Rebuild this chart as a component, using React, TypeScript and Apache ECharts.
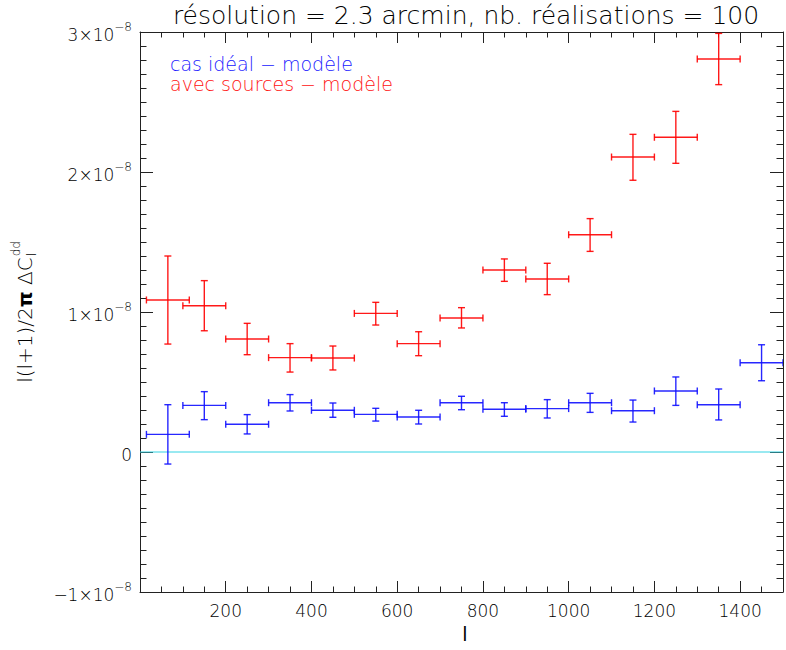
import React, { useEffect, useRef } from 'react';
import * as echarts from 'echarts';

// multipole bins (centre, lower edge, upper edge)
const binCentres = [65, 150, 250, 350, 450, 550, 650, 750, 850, 950, 1050, 1150, 1250, 1350, 1450];
const binLow = [15, 100, 200, 300, 400, 500, 600, 700, 800, 900, 1000, 1100, 1200, 1300, 1400];
const binHigh = [115, 200, 300, 400, 500, 600, 700, 800, 900, 1000, 1100, 1200, 1300, 1400, 1500];

// values in units of 1e-8
const idealValues = [0.126, 0.333, 0.198, 0.352, 0.298, 0.269, 0.250, 0.352, 0.305, 0.310, 0.352, 0.295, 0.436, 0.338, 0.638];
const idealLow = [-0.086, 0.231, 0.129, 0.293, 0.248, 0.221, 0.200, 0.302, 0.255, 0.243, 0.283, 0.214, 0.333, 0.229, 0.509];
const idealHigh = [0.338, 0.431, 0.267, 0.410, 0.350, 0.312, 0.298, 0.398, 0.352, 0.374, 0.419, 0.371, 0.536, 0.450, 0.766];

const sourcesValues = [1.086, 1.045, 0.807, 0.674, 0.671, 0.990, 0.774, 0.957, 1.300, 1.236, 1.552, 2.107, 2.248, 2.807];
const sourcesLow = [0.771, 0.866, 0.695, 0.571, 0.586, 0.907, 0.688, 0.886, 1.219, 1.124, 1.433, 1.941, 2.062, 2.624];
const sourcesHigh = [1.400, 1.224, 0.919, 0.774, 0.757, 1.069, 0.859, 1.031, 1.379, 1.348, 1.667, 2.269, 2.433, 2.990];

const xTicks = [200, 400, 600, 800, 1000, 1200, 1400];
const yTickValues = [-1, 0, 1, 2, 3];

const titleText = 'résolution = 2.3 arcmin, nb. réalisations = 100';
const legendIdeal = 'cas idéal − modèle';
const legendSources = 'avec sources − modèle';

const FONT = '"DejaVu Sans", sans-serif';
const FW = 200;

function rows(vals: number[], lo: number[], hi: number[]) {
  return vals.map((v, i) => [binCentres[i], v, lo[i], hi[i], binLow[i], binHigh[i]]);
}

function errRender(color: string) {
  return (params: any, api: any) => {
    const x = api.value(0);
    const y = api.value(1);
    const c = api.coord([x, y]);
    const lo = api.coord([x, api.value(2)]);
    const hi = api.coord([x, api.value(3)]);
    const l = api.coord([api.value(4), y]);
    const r = api.coord([api.value(5), y]);
    const style = { stroke: color, lineWidth: 1.4, opacity: 0.9 };
    const cap = 3.5;
    const ln = (x1: number, y1: number, x2: number, y2: number) => ({
      type: 'line',
      shape: { x1, y1, x2, y2 },
      style,
    });
    return {
      type: 'group',
      children: [
        ln(c[0], hi[1], c[0], lo[1]),
        ln(c[0] - cap, hi[1], c[0] + cap, hi[1]),
        ln(c[0] - cap, lo[1], c[0] + cap, lo[1]),
        ln(l[0], c[1], r[0], c[1]),
        ln(l[0], c[1] - cap, l[0], c[1] + cap),
        ln(r[0], c[1] - cap, r[0], c[1] + cap),
      ],
    };
  };
}

function measure(text: string, font: string) {
  const cv = document.createElement('canvas');
  const ctx = cv.getContext('2d');
  if (!ctx) return text.length * 10;
  ctx.font = font;
  return ctx.measureText(text).width;
}

export default function App() {
  const ref = useRef<HTMLDivElement>(null);
  useEffect(() => {
    if (!ref.current) return;
    const chart = echarts.init(ref.current, undefined, { renderer: 'svg' });
    const axisColor = '#222';
    const gridLeft = 140;
    const gridTop = 32;
    const gridW = 650;
    const gridH = 560;

    const yLabel = (v: number) => {
      const n = Math.round(v);
      if (n === 0) return '{b|0}';
      return '{b|' + (n < 0 ? '−' : '') + Math.abs(n) + '×10}{s|−8}';
    };

    const xMajorBase = {
      type: 'value',
      min: 0,
      max: 1500,
      interval: 200,
      axisLine: { show: true, onZero: false, lineStyle: { color: axisColor, width: 1 } },
      axisTick: { show: true, inside: true, length: 11, lineStyle: { color: axisColor } },
      minorTick: { show: false },
      splitLine: { show: false },
    };
    const xMinorBase = {
      type: 'value',
      min: 0,
      max: 1500,
      interval: 50,
      axisLine: { show: false, onZero: false },
      axisTick: { show: true, inside: true, length: 5.5, lineStyle: { color: axisColor } },
      axisLabel: { show: false },
      splitLine: { show: false },
    };
    const yBase = {
      type: 'value',
      min: -1,
      max: 3,
      interval: 1,
      axisLine: { show: true, onZero: false, lineStyle: { color: axisColor, width: 1 } },
      axisTick: { show: true, inside: true, length: 13, lineStyle: { color: axisColor } },
      minorTick: { show: true, splitNumber: 10, length: 6.5, lineStyle: { color: axisColor } },
      splitLine: { show: false },
      minorSplitLine: { show: false },
    };

    // y-axis title
    const FS = 20;
    const mainFont = FW + ' ' + FS + 'px "DejaVu Sans"';
    const part1 = 'l(l+1)/2';
    const part2 = 'π';
    const part3 = ' ΔC';
    const w1 = measure(part1, mainFont);
    const w2 = measure(part2, 'bold ' + FS + 'px "DejaVu Sans"');
    const w3 = measure(part3, mainFont);
    const wMain = w1 + w2 + w3;
    const wSup = measure('dd', FW + ' 12px "DejaVu Sans"');
    const total = wMain + wSup + 1;
    const x0 = -total / 2;

    const txt = (text: string, x: number, y: number, size: number, fill: string, align: string, extra: any = {}) => ({
      type: 'text',
      x,
      y,
      style: {
        text,
        fontFamily: FONT,
        fontSize: size,
        fontWeight: FW,
        fill,
        align,
        verticalAlign: 'middle',
        textAlign: align,
        textVerticalAlign: 'middle',
        ...extra,
      },
    });

    chart.setOption({
      animation: false,
      backgroundColor: '#ffffff',
      grid: { left: gridLeft, top: gridTop, width: gridW, height: gridH, containLabel: false },
      xAxis: [
        {
          ...xMajorBase,
          position: 'bottom',
          axisLabel: {
            show: true,
            margin: 10,
            color: '#000',
            fontFamily: FONT,
            fontWeight: FW,
            fontSize: 17,
            formatter: (v: number) => (xTicks.indexOf(v) >= 0 ? String(v) : ''),
          },
        },
        { ...xMajorBase, position: 'top', axisLabel: { show: false } },
        { ...xMinorBase, position: 'bottom' },
        { ...xMinorBase, position: 'top' },
      ],
      yAxis: [
        {
          ...yBase,
          position: 'left',
          axisLabel: {
            show: true,
            margin: 8,
            color: '#000',
            fontFamily: FONT,
            fontWeight: FW,
            formatter: (v: number) => (yTickValues.indexOf(Math.round(v)) >= 0 ? yLabel(v) : ''),
            rich: {
              b: { fontSize: 17, fontFamily: FONT, fontWeight: FW, color: '#000', lineHeight: 22, verticalAlign: 'bottom' },
              s: { fontSize: 12, fontFamily: FONT, fontWeight: FW, color: '#000', lineHeight: 22, verticalAlign: 'top' },
            },
          },
        },
        { ...yBase, position: 'right', axisLabel: { show: false } },
      ],
      series: [
        {
          type: 'line',
          xAxisIndex: 0,
          yAxisIndex: 0,
          data: [[0, 0], [1500, 0]],
          showSymbol: false,
          symbol: 'none',
          lineStyle: { color: '#35d3e3', width: 1 },
          silent: true,
          z: 1,
        },
        {
          type: 'custom',
          name: 'ideal',
          xAxisIndex: 0,
          yAxisIndex: 0,
          clip: true,
          renderItem: errRender('#1010ff'),
          encode: { x: 0, y: 1 },
          data: rows(idealValues, idealLow, idealHigh),
          z: 3,
        },
        {
          type: 'custom',
          name: 'sources',
          xAxisIndex: 0,
          yAxisIndex: 0,
          clip: true,
          renderItem: errRender('#ff0000'),
          encode: { x: 0, y: 1 },
          data: rows(sourcesValues, sourcesLow, sourcesHigh),
          z: 3,
        },
      ],
      graphic: [
        txt(titleText, 466, 15, 25, '#000', 'center'),
        txt(legendIdeal, 170, 64, 19, '#2020ff', 'left'),
        txt(legendSources, 170, 84, 19, '#ff1010', 'left'),
        txt('l', 465, 634, 19, '#000', 'center', { fontWeight: 'normal' }),
        {
          type: 'group',
          x: 25,
          y: 312,
          rotation: Math.PI / 2,
          children: [
            txt(part1 + '{p|' + part2 + '}' + part3, x0, 0, FS, '#000', 'left', {
              rich: { p: { fontFamily: FONT, fontSize: FS, fontWeight: 'bold', fill: '#000' } },
            }),
            txt('l', x0 + wMain + 1, 7, 12, '#000', 'left'),
            txt('dd', x0 + wMain + 1, -9, 12, '#000', 'left'),
          ],
        },
      ],
    } as any);
    return () => chart.dispose();
  }, []);
  return (
    <div
      ref={ref}
      style={{ position: 'absolute', left: 0, top: 0, width: 786, height: 650, background: '#fff' }}
    />
  );
}
